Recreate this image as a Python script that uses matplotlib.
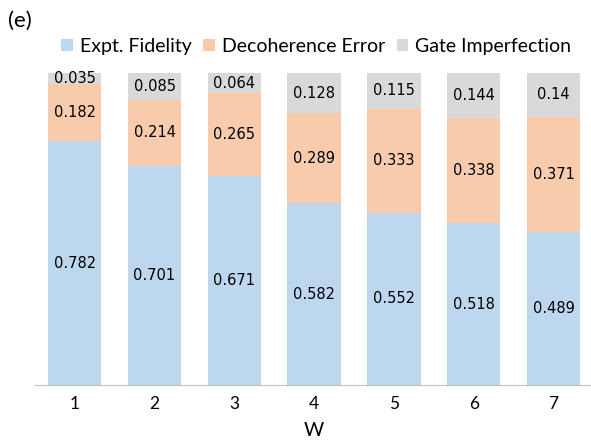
import matplotlib
matplotlib.use("Agg")
import matplotlib.pyplot as plt
import numpy as np

categories = ["1", "2", "3", "4", "5", "6", "7"]
fidelity = [0.782, 0.701, 0.671, 0.582, 0.552, 0.518, 0.489]
decoherence = [0.182, 0.214, 0.265, 0.289, 0.333, 0.338, 0.371]
gate = [0.035, 0.085, 0.064, 0.128, 0.115, 0.144, 0.14]
series_names = ["Expt. Fidelity", "Decoherence Error", "Gate Imperfection"]
colors = ["#BDD7EE", "#F8CBAD", "#D9D9D9"]

fig = plt.figure(figsize=(5.91, 4.4), dpi=100)
ax = fig.add_axes([0.059, 0.125, 0.945, 0.709])

x = np.arange(len(categories))
bottom = np.zeros(len(categories))
handles = []
for vals, name, col in zip([fidelity, decoherence, gate], series_names, colors):
    vals = np.array(vals)
    b = ax.bar(x, vals, 0.67, bottom=bottom, color=col, label=name)
    handles.append(b)
    for xi, bi, v in zip(x, bottom, vals):
        ax.text(xi, bi + v / 2, f"{v:g}", ha="center", va="center",
                fontsize=10.5, family="DejaVu Sans", color="black")
    bottom = bottom + vals

ax.set_xlim(-0.5, 6.5)
ax.set_ylim(0, 1.0)
ax.set_xticks(x)
ax.set_xticklabels(categories, family="Lato", fontsize=12.5)
ax.set_yticks([])
for s in ["top", "right", "left"]:
    ax.spines[s].set_visible(False)
ax.spines["bottom"].set_color("#BFBFBF")
ax.tick_params(axis="x", length=0, pad=8)
ax.set_xlabel("W", family="Lato", fontsize=14, labelpad=7)

fig.legend(handles=handles, labels=series_names, loc="center",
           bbox_to_anchor=(0.535, 0.895), ncol=3, frameon=False,
           prop={"family": "Lato", "size": 14}, handlelength=0.6,
           handleheight=0.6, handletextpad=0.35, columnspacing=0.6)
fig.text(0.014, 0.953, "(e)", family="Lato", fontsize=16, va="center")

fig.savefig("out.png", dpi=100)
